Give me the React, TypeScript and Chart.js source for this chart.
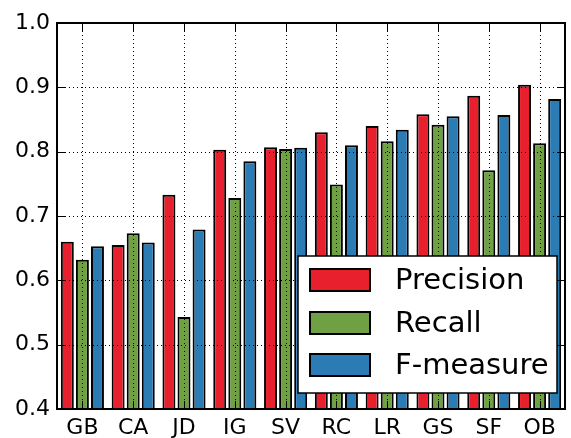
import React, { useEffect, useRef } from "react";
import { Chart, registerables } from "chart.js";
Chart.register(...registerables);

const categories = ["GB", "CA", "JD", "IG", "SV", "RC", "LR", "GS", "SF", "OB"];
const precision = [0.66, 0.655, 0.733, 0.803, 0.807, 0.83, 0.84, 0.858, 0.887, 0.904];
const recall = [0.632, 0.673, 0.543, 0.728, 0.804, 0.749, 0.816, 0.842, 0.771, 0.813];
const fmeasure = [0.653, 0.659, 0.679, 0.785, 0.806, 0.81, 0.834, 0.855, 0.857, 0.882];
const seriesNames = ["Precision", "Recall", "F-measure"];
const seriesColors = ["#e8202e", "#6fa044", "#2b7cb4"];
const yTicks = [0.4, 0.5, 0.6, 0.7, 0.8, 0.9, 1.0];

const FONT = "DejaVu Sans";

const overlay = {
  id: "overlay",
  afterDatasetsDraw(chart: any) {
    const { ctx, chartArea: a, scales } = chart;
    const xs = scales.x;
    const ys = scales.y;
    const line = (x1: number, y1: number, x2: number, y2: number) => {
      ctx.beginPath();
      ctx.moveTo(x1, y1);
      ctx.lineTo(x2, y2);
      ctx.stroke();
    };
    ctx.save();
    // dotted grid
    ctx.strokeStyle = "#000";
    ctx.lineWidth = 1;
    ctx.setLineDash([1, 3]);
    yTicks.forEach((v) => {
      if (v <= 0.4 || v >= 1.0) return;
      const py = Math.round(ys.getPixelForValue(v)) + 0.5;
      line(a.left, py, a.right, py);
    });
    categories.forEach((_, i) => {
      const px = Math.round(xs.getPixelForValue(i)) + 0.5;
      line(px, a.top, px, a.bottom);
    });
    ctx.setLineDash([]);
    // inward ticks
    ctx.lineWidth = 1;
    yTicks.forEach((v) => {
      const py = Math.round(ys.getPixelForValue(v)) + 0.5;
      line(a.left, py, a.left + 8, py);
      line(a.right - 8, py, a.right, py);
    });
    categories.forEach((_, i) => {
      const px = Math.round(xs.getPixelForValue(i)) + 0.5;
      line(px, a.bottom, px, a.bottom - 8);
      line(px, a.top, px, a.top + 8);
    });
    // frame
    ctx.lineWidth = 2;
    ctx.strokeRect(a.left, a.top, a.right - a.left, a.bottom - a.top);
    // legend
    const bw = 259;
    const bh = 137;
    const bx = a.right - 8 - bw;
    const by = a.bottom - 16 - bh;
    ctx.fillStyle = "#fff";
    ctx.fillRect(bx, by, bw, bh);
    ctx.lineWidth = 1.5;
    ctx.strokeRect(bx, by, bw, bh);
    ctx.font = `29px "${FONT}"`;
    ctx.textBaseline = "middle";
    ctx.textAlign = "left";
    const rows = [24, 67, 109];
    seriesNames.forEach((name, i) => {
      const cy = by + rows[i];
      ctx.fillStyle = seriesColors[i];
      ctx.fillRect(bx + 12, cy - 11, 60, 22);
      ctx.lineWidth = 2;
      ctx.strokeStyle = "#000";
      ctx.strokeRect(bx + 12, cy - 11, 60, 22);
      ctx.fillStyle = "#000";
      ctx.fillText(name, bx + 97, cy + 1);
    });
    ctx.restore();
  },
};

export default function App() {
  const ref = useRef<HTMLCanvasElement>(null);
  useEffect(() => {
    document.body.style.margin = "0";
    const seriesData = [precision, recall, fmeasure];
    const chart = new Chart(ref.current!, {
      type: "bar",
      data: {
        labels: categories,
        datasets: seriesNames.map((n, i) => ({
          label: n,
          data: seriesData[i],
          backgroundColor: seriesColors[i],
          borderColor: "#000",
          borderWidth: 2,
          borderSkipped: false,
          categoryPercentage: 0.89,
          barPercentage: 0.86,
        })),
      },
      options: {
        animation: false,
        responsive: false,
        devicePixelRatio: 1,
        layout: { padding: { top: 23, right: 6, left: 0, bottom: 0 } },
        plugins: { legend: { display: false }, tooltip: { enabled: false } },
        scales: {
          x: {
            grid: { display: false, drawTicks: false },
            border: { display: false },
            ticks: { color: "#000", font: { family: FONT, size: 22 }, padding: 6, maxRotation: 0 },
            afterFit: (s: any) => {
              s.height = 29;
            },
          },
          y: {
            min: 0.4,
            max: 1.0,
            grid: { display: false, drawTicks: false },
            border: { display: false },
            ticks: {
              stepSize: 0.1,
              color: "#000",
              font: { family: FONT, size: 22 },
              padding: 7,
              callback: (v: any) => Number(v).toFixed(1),
            },
            afterFit: (s: any) => {
              s.width = 57;
            },
          },
        },
      },
      plugins: [overlay],
    });
    return () => chart.destroy();
  }, []);
  return <canvas ref={ref} width={571} height={438} style={{ display: "block" }} />;
}
